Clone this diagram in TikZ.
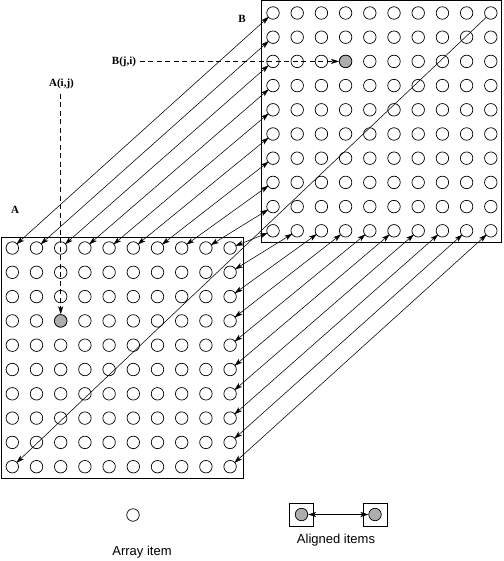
\documentclass[tikz,border=0pt]{standalone}
\usepackage{fontspec}
\setmainfont{Liberation Serif}
\newfontfamily\legendfont{Liberation Sans}
\usetikzlibrary{arrows.meta}
\begin{document}
\begin{tikzpicture}[x=1pt,y=-1pt,
  item/.style={circle,draw,line width=0.7pt,minimum size=12.5pt,inner sep=0pt},
  hit/.style={item,fill=black!32},
  frame/.style={draw,line width=1pt},
  conn/.style={line width=0.55pt},
  tip/.tip={Stealth[length=8pt,width=5pt,inset=2pt]},
  dashline/.style={line width=0.6pt,dash pattern=on 5pt off 3.5pt},
  lab/.style={font=\bfseries\fontsize{11}{13}\selectfont,inner sep=1.5pt},
  leg/.style={font=\legendfont\fontsize{13}{15}\selectfont}]
\useasboundingbox (0,0) rectangle (503,561);
% frames
\draw[frame] (1,237) rectangle (243,478);
\draw[frame] (261,0.7) rectangle (501,242);
% grids
\foreach \i in {0,...,9}{
  \foreach \j in {0,...,9}{
    \node[item] (a-\i-\j) at ({12.3+24.2*\j},{248+24.3*\i}) {};
    \node[item] (b-\i-\j) at ({273+24.2*\j},{13+24.2*\i}) {};
  }
}
% highlighted items
\node[hit] at (a-3-2) {};
\node[hit] at (b-2-3) {};
% transpose connectors
\foreach \j in {0,...,9}{
  \draw[conn,{tip}-{tip},shorten <=-1pt,shorten >=-1pt] (a-0-\j) -- (b-\j-0);
}
\foreach \i in {1,...,9}{
  \draw[conn,{tip}-{tip},shorten <=-1pt,shorten >=-1pt] (a-\i-9) -- (b-9-\i);
}
\draw[conn,-{tip},shorten >=-1pt] (b-0-9) -- (a-9-0);
% labels
\node[lab] (alab) at (15,210) {A};
\node[lab] (blab) at (242,19) {B};
\node[lab] (aij) at (61.5,84) {A(i,j)};
\node[lab] (bji) at (124,61.5) {B(j,i)};
\draw[dashline,-{tip}] ([yshift=-3pt]aij.south -| a-3-2) -- (a-3-2);
\draw[dashline,-{tip}] ([xshift=2pt]bji.east |- b-2-3) -- (b-2-3);
% legend
\node[item] (legitem) at (133,515) {};
\node[leg] (legtext1) at (142,552) {Array item};
\draw[line width=0.8pt] (289,503) rectangle (313,526);
\draw[line width=0.8pt] (363,503) rectangle (387,526);
\node[hit] (leg1) at (301.5,514.5) {};
\node[hit] (leg2) at (375,514.5) {};
\draw[conn,{tip}-{tip}] (leg1) -- (leg2);
\node[leg] (legtext2) at (336,540) {Aligned items};
\end{tikzpicture}
\end{document}
